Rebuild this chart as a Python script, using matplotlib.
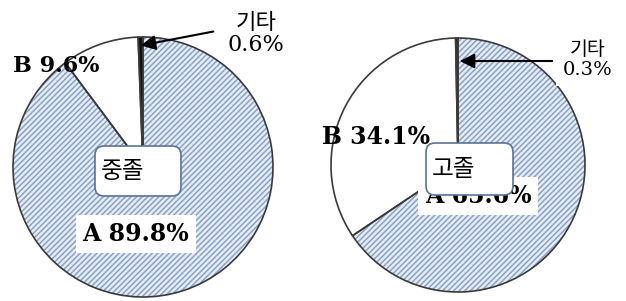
import matplotlib.pyplot as plt
from matplotlib.patches import FancyBboxPatch

plt.rcParams['font.family'] = ['DejaVu Serif', 'Noto Sans CJK KR']
plt.rcParams['hatch.linewidth'] = 1.1

labels = ['A', 'B', '기타']
mid_vals = [89.8, 9.6, 0.6]    # 중졸
high_vals = [65.6, 34.1, 0.3]  # 고졸
groups = ['중졸', '고졸']

W, H = 626, 301
fig = plt.figure(figsize=(W / 100, H / 100), dpi=100)
ax = fig.add_axes([0, 0, 1, 1])
ax.set_xlim(0, W)
ax.set_ylim(0, H)
ax.set_aspect('equal')
ax.axis('off')

fills = ['#e2edf8', 'white', '#111111']
hatches = ['//////', '', '']


def draw_pie(vals, cx, cy, r):
    # hatch layer (edge color = hatch color), then outline on top
    w1, _ = ax.pie(vals, colors=fills, startangle=90, counterclock=False,
                   center=(cx, cy), radius=r, frame=True,
                   wedgeprops=dict(linewidth=0))
    for w, h in zip(w1, hatches):
        if h:
            w.set_hatch(h)
            w.set_edgecolor('#8fa1c2')
    ax.pie(vals, colors=['none'] * 3, startangle=90, counterclock=False,
           center=(cx, cy), radius=r, frame=True,
           wedgeprops=dict(linewidth=1.2, edgecolor='#3a3a3a'))


draw_pie(mid_vals, 143, H - 167, 130)
draw_pie(high_vals, 458, H - 165, 127)
ax.set_xlim(0, W)
ax.set_ylim(0, H)
ax.axis('off')


def pct(v):
    return f'{v:.1f}%'


# left pie labels
ax.text(13, H - 66, f'{labels[1]} {pct(mid_vals[1])}', fontsize=16,
        fontweight='bold', ha='left', va='center')
ax.text(136, H - 234, f'{labels[0]} {pct(mid_vals[0])}', fontsize=17,
        fontweight='bold', ha='center', va='center',
        bbox=dict(boxstyle='square,pad=0.3', fc='white', ec='none'))
ax.text(256, H - 34, f'{labels[2]}\n{pct(mid_vals[2])}', fontsize=16,
        ha='center', va='center', linespacing=1.05)
ax.annotate('', xy=(138, H - 46), xytext=(216, H - 31),
            arrowprops=dict(arrowstyle='-|>', color='black', lw=1.5,
                            mutation_scale=22))

# right pie labels
ax.text(322, H - 137, f'{labels[1]} {pct(high_vals[1])}', fontsize=17,
        fontweight='bold', ha='left', va='center')
ax.text(478, H - 196, f'{labels[0]} {pct(high_vals[0])}', fontsize=17,
        fontweight='bold', ha='center', va='center',
        bbox=dict(boxstyle='square,pad=0.3', fc='white', ec='none'))
ax.text(588, H - 60, f'{labels[2]}\n{pct(high_vals[2])}', fontsize=14,
        ha='center', va='center', linespacing=1.15,
        bbox=dict(boxstyle='square,pad=0.35', fc='white', ec='none'))
ax.annotate('', xy=(457, H - 61), xytext=(555, H - 61),
            arrowprops=dict(arrowstyle='-|>', color='black', lw=1.5,
                            mutation_scale=22))

# group name boxes
for name, (x0, y0, x1, y1) in zip(groups, [(95, 146, 181, 196), (426, 143, 513, 195)]):
    box = FancyBboxPatch((x0, H - y1), x1 - x0, y1 - y0,
                         boxstyle='round,pad=0,rounding_size=9',
                         fc='white', ec='#5b7396', lw=1.2, zorder=5)
    ax.add_patch(box)
    ax.text(x0 + 6, H - (y0 + y1) / 2, name, fontsize=17, ha='left',
            va='center', family='Noto Sans CJK KR', zorder=6)

fig.savefig('out.png', dpi=100)
